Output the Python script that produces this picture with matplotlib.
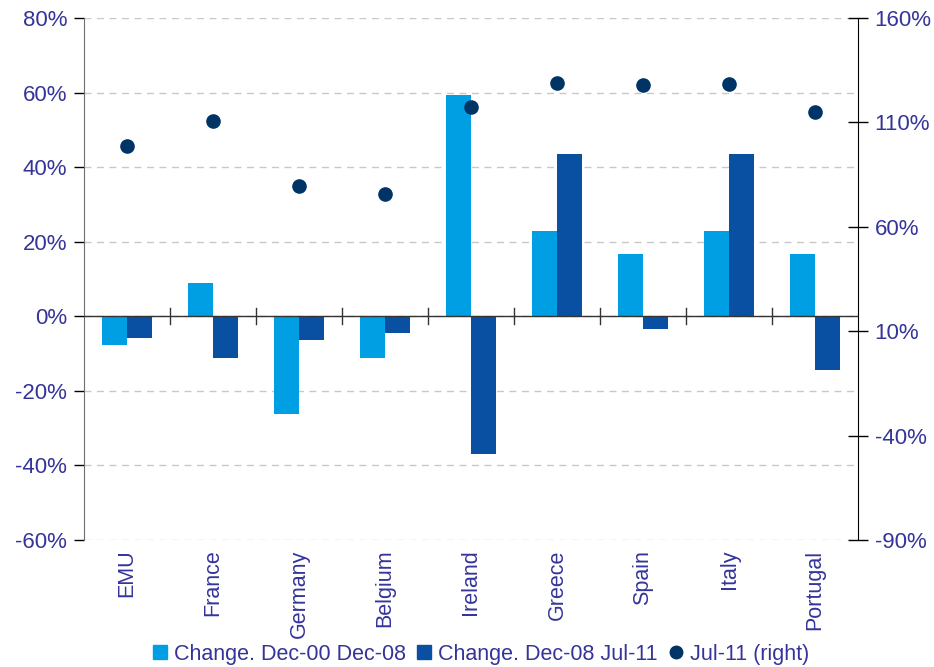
import matplotlib.pyplot as plt
import numpy as np
from matplotlib.lines import Line2D
from matplotlib.ticker import FixedLocator, FuncFormatter, MultipleLocator

plt.rcParams["font.family"] = ["Liberation Sans", "DejaVu Sans"]

countries = ["EMU", "France", "Germany", "Belgium", "Ireland", "Greece", "Spain", "Italy", "Portugal"]
chg_00_08 = [-7.7, 9.0, -26.2, -11.1, 59.3, 23.0, 16.6, 23.0, 16.6]
chg_08_11 = [-5.7, -11.1, -6.3, -4.6, -37.0, 43.4, -3.3, 43.4, -14.3]
jul11_right = [98.7, 110.9, 79.5, 75.6, 117.2, 128.9, 127.9, 128.6, 114.8]

labels = ["Change. Dec-00 Dec-08", "Change. Dec-08 Jul-11", "Jul-11 (right)"]
right_ticks = [-90, -40, 10, 60, 110, 160]

text_col = "#34349a"
light = "#009fe3"
dark = "#0a50a2"
dot = "#003366"

fig = plt.figure(figsize=(9.34, 6.67), dpi=100)
ax = fig.add_axes([84 / 934, 1 - 540 / 667, (858 - 84) / 934, (540 - 18) / 667])
ax2 = ax.twinx()

x = np.arange(len(countries))
w = 0.29
ax.bar(x - w / 2, chg_00_08, width=w, color=light, zorder=3)
ax.bar(x + w / 2, chg_08_11, width=w, color=dark, zorder=3)
ax2.plot(x, jul11_right, "o", color=dot, markersize=9.5, zorder=4)

ax.set_xlim(-0.5, len(countries) - 0.5)
ax.set_ylim(-60, 80)
ax2.set_ylim(-90, 160)

ax.yaxis.set_major_locator(MultipleLocator(20))
ax2.yaxis.set_major_locator(FixedLocator(right_ticks))
pct = FuncFormatter(lambda v, _: f"{v:.0f}%")
ax.yaxis.set_major_formatter(pct)
ax2.yaxis.set_major_formatter(pct)

ax.grid(axis="y", color="#c8c8c8", linestyle=(0, (5, 4)), linewidth=1, zorder=0)

# spines: left gray, right black, x-axis line at zero
for s in ["top", "bottom"]:
    ax.spines[s].set_visible(False)
    ax2.spines[s].set_visible(False)
ax.spines["right"].set_visible(False)
ax2.spines["left"].set_visible(False)
ax.spines["left"].set_color("#6e6e6e")
ax2.spines["right"].set_color("black")
ax.axhline(0, color="#333333", linewidth=1, zorder=5)

# boundary ticks on the zero line
for b in np.arange(0.5, len(countries) - 0.5, 1):
    ax.plot([b, b], [-2.2, 2.2], color="#333333", linewidth=1, zorder=5)

ax.tick_params(axis="y", colors="black", labelcolor=text_col, labelsize=16, length=7, width=1, pad=5)
ax2.tick_params(axis="y", colors="black", labelcolor=text_col, labelsize=16, length=14, width=1,
                direction="inout", pad=5)

ax.xaxis.set_major_locator(FixedLocator(x))
ax.set_xticklabels(countries, rotation=90, va="top", ha="center", color=text_col, fontsize=15.5)
ax.tick_params(axis="x", length=0, pad=7)

handles = [
    Line2D([], [], marker="s", linestyle="none", color=light, markersize=10),
    Line2D([], [], marker="s", linestyle="none", color=dark, markersize=10),
    Line2D([], [], marker="o", linestyle="none", color=dot, markersize=9),
]
leg = fig.legend(handles, labels, loc="lower center", bbox_to_anchor=(0.515, -0.026), ncol=3,
                 frameon=False, fontsize=15.5, handlelength=0.7, handletextpad=0.3, columnspacing=0.5)
for t in leg.get_texts():
    t.set_color(text_col)

fig.savefig("out.png", dpi=100)
